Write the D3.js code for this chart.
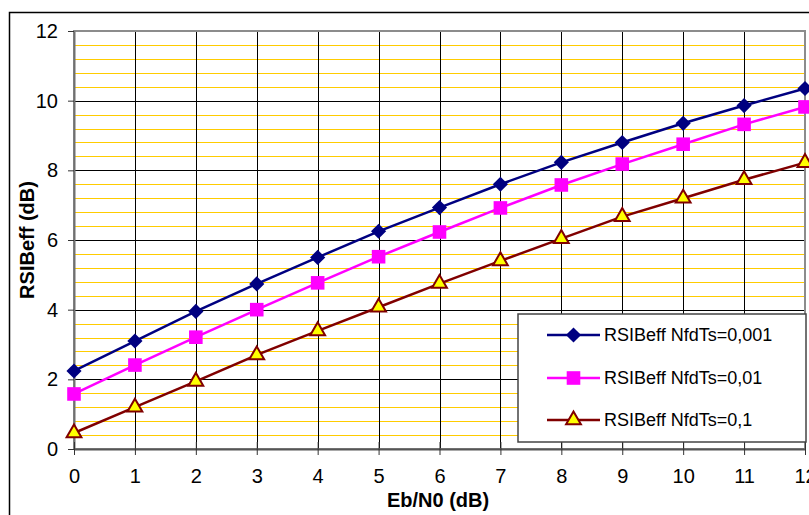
<!DOCTYPE html>
<html><head><meta charset="utf-8">
<script src="https://cdn.jsdelivr.net/npm/d3@7"></script>
<style>html,body{margin:0;padding:0;background:#fff;overflow:hidden}</style>
</head><body>
<script>
const ebn0 = [0,1,2,3,4,5,6,7,8,9,10,11,12];
const s001 = [2.24, 3.10, 3.95, 4.74, 5.50, 6.25, 6.93, 7.60, 8.23, 8.80, 9.35, 9.86, 10.35];
const s01  = [1.58, 2.41, 3.21, 4.00, 4.77, 5.52, 6.23, 6.92, 7.58, 8.18, 8.75, 9.32, 9.82];
const s1   = [0.46, 1.20, 1.94, 2.70, 3.39, 4.07, 4.75, 5.40, 6.04, 6.67, 7.20, 7.73, 8.22];
const seriesNames = ["RSIBeff NfdTs=0,001", "RSIBeff NfdTs=0,01", "RSIBeff NfdTs=0,1"];
const yTicks = [0,2,4,6,8,10,12];
const xTicks = [0,1,2,3,4,5,6,7,8,9,10,11,12];
const minorTicks = [0.4,0.8,1.2,1.6,2.4,2.8,3.2,3.6,4.4,4.8,5.2,5.6,6.4,6.8,7.2,7.6,8.4,8.8,9.2,9.6,10.4,10.8,11.2,11.6];

const W = 809, H = 515;
const svg = d3.select("body").append("svg").attr("width", W).attr("height", H)
  .style("font-family", "'Liberation Sans', Arial, sans-serif");

const L = 74, R = 805, T = 31, B = 449;
const x = d3.scaleLinear().domain([0,12]).range([L, R]);
const y = d3.scaleLinear().domain([0,12]).range([B, T]);

// outer chart border
svg.append("rect").attr("x", 9.5).attr("y", 12.5).attr("width", 830).attr("height", 540)
  .attr("fill", "#fff").attr("stroke", "#000").attr("stroke-width", 1.5);

// minor yellow gridlines
svg.append("g").selectAll("line").data(minorTicks).join("line")
  .attr("x1", L).attr("x2", R)
  .attr("y1", d => Math.round(y(d)) + 0.5).attr("y2", d => Math.round(y(d)) + 0.5)
  .attr("stroke", "#FFCC00").attr("stroke-width", 1);

// major gridlines
svg.append("g").selectAll("line").data(yTicks).join("line")
  .attr("x1", L).attr("x2", R)
  .attr("y1", d => Math.round(y(d)) + 0.5).attr("y2", d => Math.round(y(d)) + 0.5)
  .attr("stroke", "#000").attr("stroke-width", 1);
svg.append("g").selectAll("line").data(xTicks).join("line")
  .attr("x1", d => Math.round(x(d)) + 0.5).attr("x2", d => Math.round(x(d)) + 0.5)
  .attr("y1", T).attr("y2", B)
  .attr("stroke", "#000").attr("stroke-width", 1);

// plot area border
svg.append("rect").attr("x", L).attr("y", T).attr("width", R - L).attr("height", B - T)
  .attr("fill", "none").attr("stroke", "#8c8c8c").attr("stroke-width", 2);

// axes
const yAxis = d3.axisLeft(y).tickValues(yTicks).tickSizeInner(6).tickSizeOuter(0).tickPadding(10);
const gy = svg.append("g").attr("transform", `translate(${L},0)`).call(yAxis);
gy.select(".domain").attr("stroke", "#707070").attr("stroke-width", 2);
gy.selectAll(".tick line").attr("stroke", "#333").attr("x2", -6).attr("x1", 0);
gy.selectAll(".tick text").attr("font-size", 20).attr("fill", "#000")
  .attr("font-family", "'Liberation Sans', Arial, sans-serif");

const xAxis = d3.axisBottom(x).tickValues(xTicks).tickSizeInner(6).tickSizeOuter(0).tickPadding(14);
const gx = svg.append("g").attr("transform", `translate(0,${B})`).call(xAxis);
gx.select(".domain").attr("stroke", "#555").attr("stroke-width", 2);
gx.selectAll(".tick line").attr("stroke", "#333").attr("y1", -7).attr("y2", 6);
gx.selectAll(".tick text").attr("font-size", 20).attr("fill", "#000")
  .attr("font-family", "'Liberation Sans', Arial, sans-serif");

// axis titles
svg.append("text").attr("x", 438).attr("y", 507).attr("text-anchor", "middle")
  .attr("font-size", 20).attr("font-weight", "bold").text("Eb/N0 (dB)");
svg.append("text").attr("transform", "translate(34,240) rotate(-90)").attr("text-anchor", "middle")
  .attr("font-size", 20).attr("font-weight", "bold").text("RSIBeff (dB)");

// series
const series = [
  {name: seriesNames[0], vals: s001, line: "#000080", fill: "#000080", stroke: "#000080", sym: d3.symbolSquare, size: 115, rot: 45, sw: 0},
  {name: seriesNames[1], vals: s01,  line: "#FF00FF", fill: "#FF00FF", stroke: "#FF00FF", sym: d3.symbolSquare, size: 185, rot: 0, sw: 0},
  {name: seriesNames[2], vals: s1,   line: "#800000", fill: "#FFFF00", stroke: "#800000", sym: d3.symbolTriangle, size: 95, rot: 0, sw: 2}
];
const lineGen = d3.line().x((d,i) => x(ebn0[i])).y(d => y(d));
series.forEach(s => {
  svg.append("path").datum(s.vals).attr("d", lineGen).attr("fill", "none")
    .attr("stroke", s.line).attr("stroke-width", 2.5);
  svg.append("g").selectAll("path").data(s.vals).join("path")
    .attr("d", d3.symbol().type(s.sym).size(s.size))
    .attr("transform", (d,i) => `translate(${x(ebn0[i])},${y(d)}) rotate(${s.rot})`)
    .attr("fill", s.fill).attr("stroke", s.stroke).attr("stroke-width", s.sw);
});

// legend
const lg = svg.append("g");
lg.append("rect").attr("x", 518).attr("y", 314).attr("width", 288).attr("height", 128)
  .attr("fill", "#fff").attr("stroke", "#444").attr("stroke-width", 1.5);
const ly = [335, 378, 420];
series.forEach((s, i) => {
  lg.append("line").attr("x1", 547).attr("x2", 600).attr("y1", ly[i]).attr("y2", ly[i])
    .attr("stroke", s.line).attr("stroke-width", 2.5);
  lg.append("path").attr("d", d3.symbol().type(s.sym).size(s.size)())
    .attr("transform", `translate(573.5,${ly[i]}) rotate(${s.rot})`)
    .attr("fill", s.fill).attr("stroke", s.stroke).attr("stroke-width", s.sw);
  lg.append("text").attr("x", 604).attr("y", ly[i]).attr("dy", "0.36em")
    .attr("font-size", 18).text(s.name);
});
</script>
</body></html>
